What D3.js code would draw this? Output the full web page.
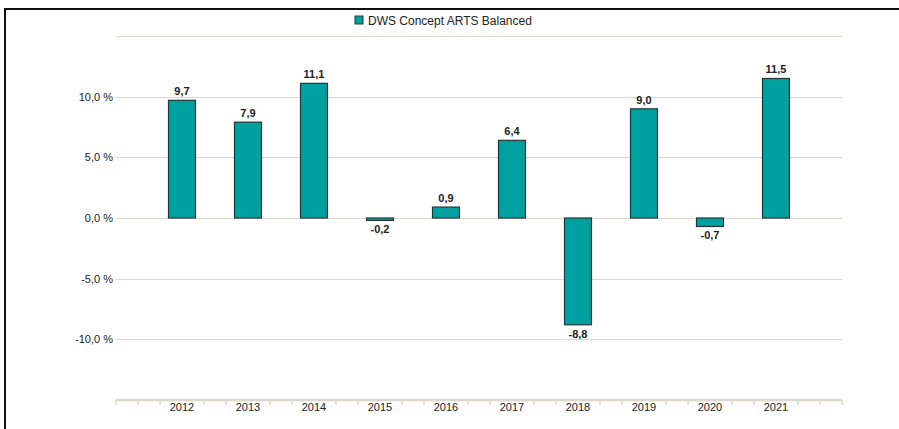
<!DOCTYPE html>
<html>
<head>
<meta charset="utf-8">
<script src="https://cdn.jsdelivr.net/npm/d3@7"></script>
<style>
  body { margin: 0; background: #fff; }
  svg { display: block; font-family: "Liberation Sans", Arial, sans-serif; }
</style>
</head>
<body>
<div id="chart"></div>
<script>
const years = [2012, 2013, 2014, 2015, 2016, 2017, 2018, 2019, 2020, 2021];
const returns = [9.7, 7.9, 11.1, -0.2, 0.9, 6.4, -8.8, 9.0, -0.7, 11.5];
const yTicks = [-10, -5, 0, 5, 10];
const gridLines = [-10, -5, 0, 5, 10, 15];
const seriesName = "DWS Concept ARTS Balanced";

const width = 899, height = 429;
const margin = { top: 36, right: 57, bottom: 29, left: 116 };

const svg = d3.select("#chart").append("svg")
    .attr("width", width)
    .attr("height", height);

// frame
svg.append("path")
    .attr("d", `M5,${height} V9 H${width}`)
    .attr("fill", "none")
    .attr("stroke", "#111")
    .attr("stroke-width", 2);

const x = d3.scaleLinear()
    .domain([2011, 2022])
    .range([margin.left, width - margin.right]);

const y = d3.scaleLinear()
    .domain([-15, 15])
    .range([height - margin.bottom, margin.top]);

const fmt = v => d3.format(".1f")(v).replace(".", ",").replace("−", "-");

// grid
svg.append("g")
    .selectAll("line")
    .data(gridLines)
    .join("line")
    .attr("x1", x(2011))
    .attr("x2", x(2022))
    .attr("y1", d => Math.round(y(d)) + 0.5)
    .attr("y2", d => Math.round(y(d)) + 0.5)
    .attr("stroke", "#dcd9d1")
    .attr("stroke-width", 1);

// y labels
svg.append("g")
    .selectAll("text")
    .data(yTicks)
    .join("text")
    .attr("x", x(2011) - 3)
    .attr("y", d => y(d) + 4)
    .attr("text-anchor", "end")
    .attr("font-size", "11px")
    .attr("fill", "#222")
    .text(d => fmt(d) + " %");

// x axis
const minor = d3.range(0, 34).map(i => 2011 + i / 3).filter(v => Math.abs(v - Math.round(v)) > 0.01 || v === 2011 || v === 2022);
const axisY = y(-15);
svg.append("line")
    .attr("x1", x(2011))
    .attr("x2", x(2022))
    .attr("y1", axisY)
    .attr("y2", axisY)
    .attr("stroke", "#dcd8cc")
    .attr("stroke-width", 2.5);

svg.append("g")
    .selectAll("line")
    .data(minor)
    .join("line")
    .attr("x1", d => x(d))
    .attr("x2", d => x(d))
    .attr("y1", axisY)
    .attr("y2", axisY + 5)
    .attr("stroke", "#dcd8cc")
    .attr("stroke-width", 1.5);

svg.append("g")
    .selectAll("text")
    .data(years)
    .join("text")
    .attr("x", d => x(d))
    .attr("y", axisY + 11)
    .attr("text-anchor", "middle")
    .attr("font-size", "11px")
    .attr("fill", "#222")
    .text(d => d);

// bars
const barW = 27;
svg.append("g")
    .selectAll("rect")
    .data(years)
    .join("rect")
    .attr("x", d => x(d) - barW / 2)
    .attr("y", (d, i) => y(Math.max(0, returns[i])))
    .attr("width", barW)
    .attr("height", (d, i) => Math.abs(y(returns[i]) - y(0)))
    .attr("fill", "#00a0a0")
    .attr("stroke", "#253636")
    .attr("stroke-width", 1.2);

svg.append("g")
    .selectAll("text")
    .data(years)
    .join("text")
    .attr("x", d => x(d))
    .attr("y", (d, i) => returns[i] >= 0 ? y(returns[i]) - 5 : y(returns[i]) + 13)
    .attr("text-anchor", "middle")
    .attr("font-size", "11px")
    .attr("font-weight", "bold")
    .attr("fill", "#222")
    .text((d, i) => fmt(returns[i]));

// legend
const legend = svg.append("g").attr("transform", "translate(355,16)");
legend.append("rect")
    .attr("width", 8)
    .attr("height", 8)
    .attr("fill", "#00a0a0")
    .attr("stroke", "#253636");
legend.append("text")
    .attr("x", 13)
    .attr("y", 8.5)
    .attr("font-size", "12px")
    .attr("fill", "#222")
    .text(seriesName);
</script>
</body>
</html>
